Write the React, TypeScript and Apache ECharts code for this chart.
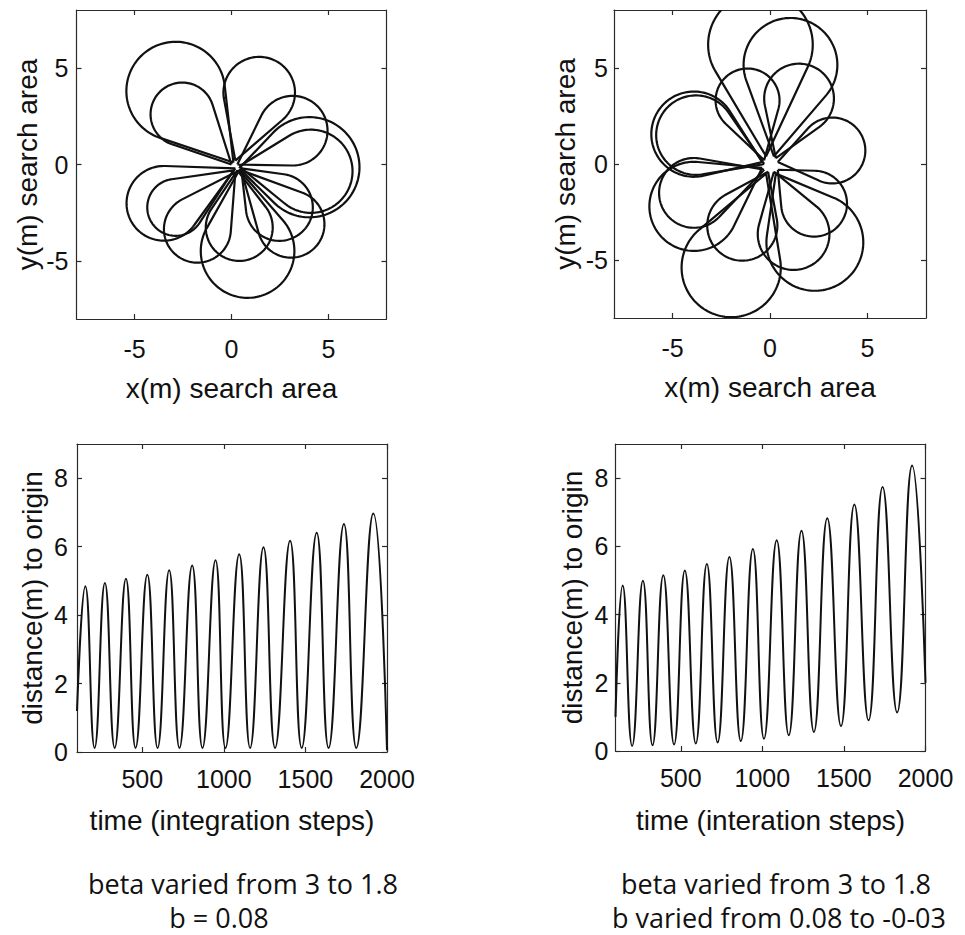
import React, { useEffect, useRef } from "react";
import * as echarts from "echarts";

// ---------- data ----------
const xyTicks = [-5, 0, 5];
const distTicks = [0, 2, 4, 6, 8];
const timeTicks = [500, 1000, 1500, 2000];

// Loops of the search path: [centreX, centreY, radius, neckX, neckY] (metres)
const loopsConstB: number[][] = [
  [-2.88, 3.8, 2.55, 0.1, 0.1],
  [-2.54, 2.6, 1.64, 0.0, 0.0],
  [1.43, 3.72, 1.85, 0.2, 0.2],
  [3.16, 1.75, 1.8, 0.3, 0.0],
  [4.02, -0.14, 2.59, 0.4, -0.2],
  [4.1, -0.35, 2.15, 0.4, -0.1],
  [-3.49, -2.01, 1.93, 0.2, -0.2],
  [-2.88, -2.22, 1.47, 0.1, -0.3],
  [-1.76, -3.35, 1.73, 0.2, -0.4],
  [0.83, -4.48, 2.42, 0.4, -0.3],
  [0.4, -3.26, 1.73, 0.3, -0.3],
  [3.07, -3.09, 1.73, 0.5, -0.3],
  [2.47, -2.22, 1.73, 0.5, -0.2],
];

const loopsVariedB: number[][] = [
  [-0.49, 6.2, 2.7, -0.2, 0.4],
  [1.05, 5.15, 2.42, 0.2, 0.4],
  [-1.15, 3.3, 1.65, -0.3, 0.2],
  [1.49, 3.4, 1.8, 0.3, 0.3],
  [3.2, 0.7, 1.7, 0.4, 0.1],
  [-3.9, 1.55, 2.2, -0.4, 0.1],
  [-3.8, 1.5, 2.05, -0.3, 0.0],
  [-3.9, -2.2, 2.3, -0.4, -0.2],
  [-3.9, -1.5, 1.8, -0.3, -0.3],
  [-1.99, -5.38, 2.56, -0.2, -0.5],
  [-1.42, -3.2, 1.81, -0.1, -0.4],
  [1.21, -3.64, 1.85, 0.2, -0.4],
  [2.26, -2.06, 1.7, 0.4, -0.3],
  [2.3, -4.07, 2.5, 0.3, -0.5],
];

// Distance to origin: turning points (time step, metres)
const timeConstB = [100, 151, 208, 271, 331, 400, 459, 531, 594, 665, 728, 806, 869, 949, 1010, 1094, 1161, 1243, 1314, 1406, 1477, 1569, 1642, 1736, 1812, 1916, 2000];
const distConstB = [1.2, 4.84, 0.12, 4.94, 0.12, 5.06, 0.12, 5.18, 0.12, 5.31, 0.12, 5.45, 0.12, 5.6, 0.12, 5.78, 0.12, 5.98, 0.12, 6.17, 0.12, 6.41, 0.12, 6.66, 0.12, 6.97, 0.05];

const timeVariedB = [100, 144, 202, 268, 327, 393, 459, 525, 592, 660, 726, 798, 868, 942, 1010, 1088, 1162, 1240, 1316, 1398, 1482, 1564, 1651, 1737, 1826, 1918, 2000];
const distVariedB = [1.0, 4.85, 0.15, 4.99, 0.17, 5.15, 0.19, 5.29, 0.22, 5.48, 0.25, 5.69, 0.29, 5.92, 0.36, 6.18, 0.46, 6.46, 0.56, 6.82, 0.73, 7.23, 0.9, 7.74, 1.13, 8.37, 2.0];

// ---------- styling ----------
const FONT = "'Liberation Sans', Arial, Helvetica, sans-serif";
const INK = "#111";
const AXIS = "#2a2a2a";

function loopRenderer(params: any, api: any) {
  const c = api.coord([api.value(0), api.value(1)]);
  const o = api.coord([api.value(3), api.value(4)]);
  const s = api.size([api.value(2), api.value(2)]);
  const r = (s[0] + s[1]) / 2;
  const dx = c[0] - o[0];
  const dy = c[1] - o[1];
  const d = Math.hypot(dx, dy);
  const points: number[][] = [];
  const N = 90;
  if (d <= r + 0.5) {
    for (let i = 0; i <= N; i++) {
      const a = (2 * Math.PI * i) / N;
      points.push([c[0] + r * Math.cos(a), c[1] + r * Math.sin(a)]);
    }
  } else {
    const th = Math.atan2(dy, dx);
    const al = Math.asin(r / d);
    const p1 = th + Math.PI / 2 + al;
    const sweep = Math.PI + 2 * al;
    points.push(o);
    for (let i = 0; i <= N; i++) {
      const a = p1 - (sweep * i) / N;
      points.push([c[0] + r * Math.cos(a), c[1] + r * Math.sin(a)]);
    }
    points.push(o);
  }
  return {
    type: "polyline",
    shape: { points },
    style: { fill: "none", stroke: INK, lineWidth: 2.2 },
  };
}

const plainNumber = (v: number) => String(v);

function xAxes(grid: number, min: number, max: number, ticks: number[], name: string, nameGap: number, margin: number) {
  const common = {
    type: "value",
    gridIndex: grid,
    min,
    max,
    splitLine: { show: false },
    axisLine: { show: true, onZero: false, lineStyle: { color: AXIS, width: 1.2 } },
    axisTick: { show: true, inside: true, length: 5, customValues: ticks, lineStyle: { color: AXIS, width: 1.2 } },
  };
  return [
    {
      ...common,
      position: "bottom",
      name,
      nameLocation: "middle",
      nameGap,
      nameTextStyle: { fontFamily: FONT, fontSize: 28, color: INK },
      axisLabel: { show: true, customValues: ticks, margin, fontFamily: FONT, fontSize: 25, color: INK, formatter: plainNumber },
    },
    { ...common, position: "top", axisLabel: { show: false } },
  ];
}

function yAxes(grid: number, min: number, max: number, ticks: number[], name: string, nameGap: number, margin: number) {
  const common = {
    type: "value",
    gridIndex: grid,
    min,
    max,
    splitLine: { show: false },
    axisLine: { show: true, onZero: false, lineStyle: { color: AXIS, width: 1.2 } },
    axisTick: { show: true, inside: true, length: 5, customValues: ticks, lineStyle: { color: AXIS, width: 1.2 } },
  };
  return [
    {
      ...common,
      position: "left",
      name,
      nameLocation: "middle",
      nameGap,
      nameTextStyle: { fontFamily: FONT, fontSize: 28, color: INK },
      axisLabel: { show: true, customValues: ticks, margin, fontFamily: FONT, fontSize: 25, color: INK, formatter: plainNumber },
    },
    { ...common, position: "right", axisLabel: { show: false } },
  ];
}

export default function App() {
  const ref = useRef<HTMLDivElement>(null);

  useEffect(() => {
    if (!ref.current) return;
    const chart = echarts.init(ref.current, undefined, { renderer: "svg" });

    const captionFont = "'Open Sans', 'Noto Sans', sans-serif";
    const caption = (text: string, x: number, y: number) => ({
      type: "text",
      x,
      y,
      style: {
        text,
        fontFamily: captionFont,
        fontSize: 27,
        lineHeight: 29,
        fill: INK,
        align: "center",
        verticalAlign: "middle",
      },
    });

    const option: any = {
      animation: false,
      backgroundColor: "#fff",
      grid: [
        { left: 76.5, top: 10, width: 310, height: 309 },
        { left: 614, top: 10, width: 312, height: 308 },
        { left: 77, top: 444, width: 310, height: 308 },
        { left: 615.5, top: 444, width: 310, height: 307 },
      ],
      xAxis: [
        ...xAxes(0, -8, 8, xyTicks, "x(m) search area", 55, 17),
        ...xAxes(1, -8, 8, xyTicks, "x(m) search area", 55, 17),
        ...xAxes(2, 100, 2000, timeTicks, "time (integration steps)", 54, 14),
        ...xAxes(3, 100, 2000, timeTicks, "time (interation steps)", 55, 14),
      ],
      yAxis: [
        ...yAxes(0, -8, 8, xyTicks, "y(m) search area", 35, 8),
        ...yAxes(1, -8, 8, xyTicks, "y(m) search area", 35, 6),
        ...yAxes(2, 0, 9, distTicks, "distance(m) to origin", 31, 9),
        ...yAxes(3, 0, 9, distTicks, "distance(m) to origin", 29, 7),
      ],
      series: [
        {
          type: "custom",
          xAxisIndex: 0,
          yAxisIndex: 0,
          clip: true,
          silent: true,
          encode: { x: 0, y: 1 },
          data: loopsConstB,
          renderItem: loopRenderer,
        },
        {
          type: "custom",
          xAxisIndex: 2,
          yAxisIndex: 2,
          clip: true,
          silent: true,
          encode: { x: 0, y: 1 },
          data: loopsVariedB,
          renderItem: loopRenderer,
        },
        {
          type: "line",
          xAxisIndex: 4,
          yAxisIndex: 4,
          data: timeConstB.map((t, i) => [t, distConstB[i]]),
          smooth: 0.5,
          symbol: "none",
          clip: true,
          silent: true,
          lineStyle: { color: INK, width: 2 },
        },
        {
          type: "line",
          xAxisIndex: 6,
          yAxisIndex: 6,
          data: timeVariedB.map((t, i) => [t, distVariedB[i]]),
          smooth: 0.5,
          symbol: "none",
          clip: true,
          silent: true,
          lineStyle: { color: INK, width: 2 },
        },
      ],
      graphic: [
        caption("beta varied from 3 to 1.8", 243, 883),
        caption("b = 0.08", 219, 917),
        caption("beta varied from 3 to 1.8", 776, 883),
        caption("b varied from 0.08 to -0-03", 779, 917),
      ],
    };

    chart.setOption(option);
    return () => chart.dispose();
  }, []);

  return (
    <div
      ref={ref}
      style={{ position: "fixed", left: 0, top: 0, width: 965, height: 935, background: "#fff" }}
    />
  );
}
